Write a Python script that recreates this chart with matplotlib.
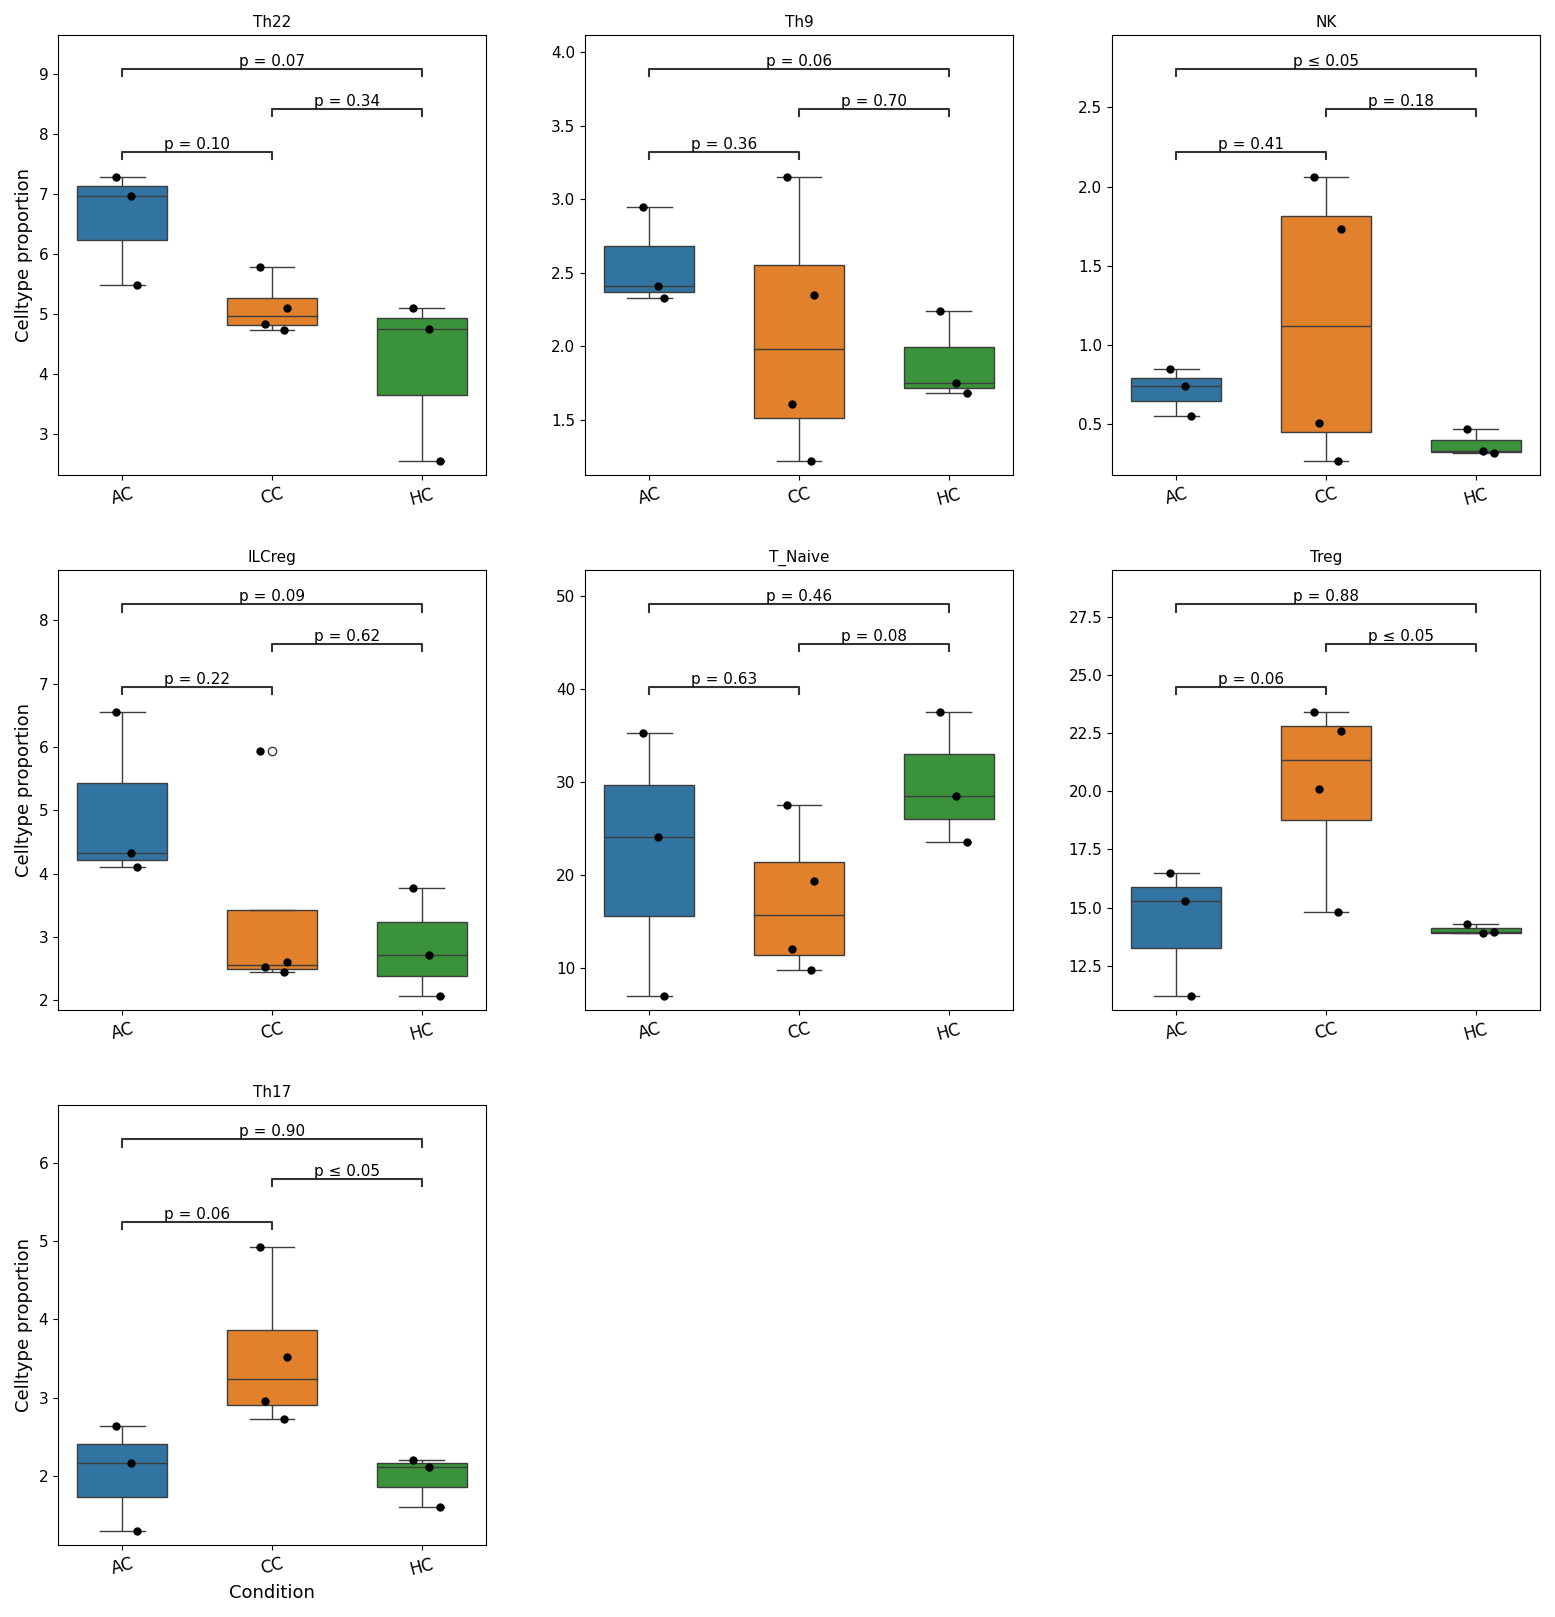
import numpy as np
import matplotlib.pyplot as plt
import seaborn as sns
import pandas as pd

conditions = ['AC', 'CC', 'HC']
celltypes = ['Th22', 'Th9', 'NK', 'ILCreg', 'T_Naive', 'Treg', 'Th17']
values = {
    'Th22': [[7.28, 6.97, 5.48], [5.78, 5.10, 4.84, 4.74], [5.10, 4.75, 2.55]],
    'Th9': [[2.95, 2.41, 2.33], [3.15, 2.35, 1.61, 1.22], [2.24, 1.75, 1.68]],
    'NK': [[0.85, 0.74, 0.55], [2.06, 1.73, 0.51, 0.27], [0.47, 0.33, 0.32]],
    'ILCreg': [[6.55, 4.33, 4.10], [5.93, 2.60, 2.52, 2.44], [3.77, 2.71, 2.07]],
    'T_Naive': [[35.3, 24.1, 7.0], [27.5, 19.3, 12.0, 9.8], [37.5, 28.5, 23.6]],
    'Treg': [[16.5, 15.3, 11.2], [23.4, 22.6, 20.1, 14.8], [14.3, 13.9, 13.95]],
    'Th17': [[2.64, 2.17, 1.30], [4.92, 3.52, 2.96, 2.73], [2.21, 2.12, 1.61]],
}
pvals = {
    'Th22': ['p = 0.10', 'p = 0.34', 'p = 0.07'],
    'Th9': ['p = 0.36', 'p = 0.70', 'p = 0.06'],
    'NK': ['p = 0.41', 'p = 0.18', 'p ≤ 0.05'],
    'ILCreg': ['p = 0.22', 'p = 0.62', 'p = 0.09'],
    'T_Naive': ['p = 0.63', 'p = 0.08', 'p = 0.46'],
    'Treg': ['p = 0.06', 'p ≤ 0.05', 'p = 0.88'],
    'Th17': ['p = 0.06', 'p ≤ 0.05', 'p = 0.90'],
}
jitter = [[-0.04, 0.06, 0.1], [-0.08, 0.1, -0.05, 0.08], [-0.06, 0.05, 0.12]]
colors = ['#1f77b4', '#ff7f0e', '#2ca02c']

fig, axes = plt.subplots(3, 3, figsize=(15.55, 16.17))
axes = axes.flatten()
for i, ct in enumerate(celltypes):
    ax = axes[i]
    rows = [(c, v) for c, vs in zip(conditions, values[ct]) for v in vs]
    df = pd.DataFrame(rows, columns=['Condition', 'val'])
    sns.boxplot(data=df, x='Condition', y='val', hue='Condition', palette=colors,
                ax=ax, width=0.6, legend=False)
    for k, vs in enumerate(values[ct]):
        ax.scatter([k + j for j in jitter[k][:len(vs)]], vs, color='black', s=25, zorder=5)
    allv = sum(values[ct], [])
    mx, mn = max(allv), min(allv)
    r = mx - mn
    tip = 0.025 * r
    pairs = [(0, 1), (1, 2), (0, 2)]
    levels = [0.09, 0.24, 0.38]
    for (a, b), lv, txt in zip(pairs, levels, pvals[ct]):
        y = mx + lv * r
        ax.plot([a, a, b, b], [y - tip, y, y, y - tip], color='#333333', lw=1.5)
        ax.text((a + b) / 2, y, txt, ha='center', va='bottom', fontsize=11)
    ax.set_ylim(mn - 0.05 * r, mx + 0.5 * r)
    ax.set_title(ct, fontsize=11)
    ax.tick_params(axis='x', labelrotation=15, labelsize=12)
    ax.tick_params(axis='y', labelsize=11)
    ax.set_ylabel('Celltype proportion' if i % 3 == 0 else '', fontsize=13)
    ax.set_xlabel('Condition' if i == 6 else '', fontsize=13)
for ax in axes[7:]:
    ax.axis('off')

plt.tight_layout(h_pad=3, w_pad=4)
plt.savefig('out.png', dpi=100)
